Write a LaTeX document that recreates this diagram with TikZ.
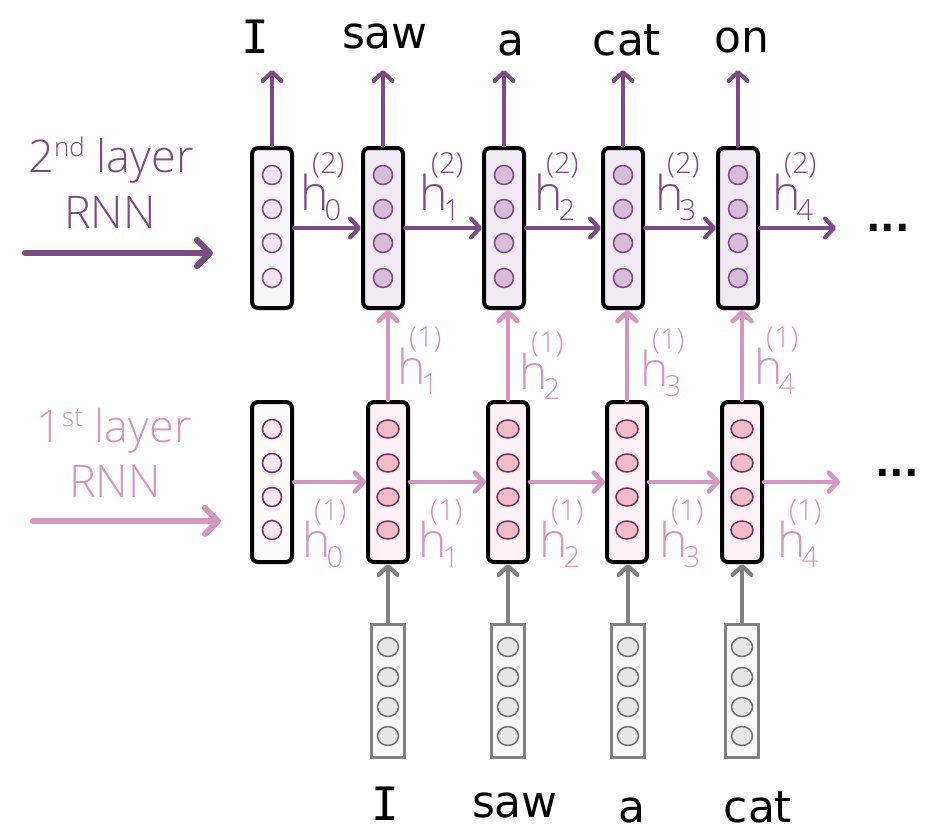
\documentclass[tikz,border=0pt]{standalone}
\usepackage{fontspec}
\setmainfont{Open Sans Light}
\newfontfamily\wordfont{DejaVu Sans}
\newfontfamily\wordmono{DejaVu Sans Mono}
\newfontfamily\dotfont{DejaVu Sans Bold}
\usetikzlibrary{arrows.meta,shapes.geometric}
\definecolor{purp}{HTML}{7C4A85}
\definecolor{pink}{HTML}{D597BF}
\definecolor{graya}{HTML}{808080}
\definecolor{tboxA}{HTML}{F8F6FA}
\definecolor{tboxB}{HTML}{F1EAF3}
\definecolor{tcirA}{HTML}{F1E4F3}
\definecolor{tcirB}{HTML}{D8BDDB}
\definecolor{lboxA}{HTML}{FEFBFB}
\definecolor{lboxB}{HTML}{FCF1F4}
\definecolor{lcirA}{HTML}{FAE8EC}
\definecolor{lcirB}{HTML}{F0BCC8}
\definecolor{lstroke}{HTML}{7A2D5E}
\definecolor{iboxf}{HTML}{F8F8F8}
\definecolor{icirf}{HTML}{E6E6E6}
\definecolor{icirs}{HTML}{707070}
\newcommand{\sfs}{\fontsize{29}{29}\selectfont}
\newcommand{\hlab}[2]{\rlap{h}\hspace{12pt}\rlap{\raisebox{37pt}{\sfs(#2)}}\hspace{12.5pt}\raisebox{-10pt}{\sfs #1}}
\tikzset{
  vbox/.style={draw=black, line width=4pt, rounded corners=6pt, minimum width=40pt, minimum height=160pt, inner sep=0pt},
  ibox/.style={draw=graya, line width=3.5pt, minimum width=33pt, minimum height=133pt, inner sep=0pt, fill=iboxf},
  tcA/.style={circle, draw=purp, line width=1.5pt, fill=tcirA, minimum size=19pt, inner sep=0pt},
  tcB/.style={circle, draw=purp, line width=1.5pt, fill=tcirB, minimum size=19pt, inner sep=0pt},
  lcA/.style={circle, draw=lstroke, line width=1.5pt, fill=lcirA, minimum size=19pt, inner sep=0pt},
  lcB/.style={ellipse, draw=lstroke, line width=1.5pt, fill=lcirB, minimum width=22pt, minimum height=18pt, inner sep=0pt},
  icir/.style={ellipse, draw=icirs, line width=1.5pt, fill=icirf, minimum width=21pt, minimum height=19pt, inner sep=0pt},
  parr/.style={draw=purp, line width=4pt, line cap=round, -{Straight Barb[length=9pt,width=19pt,line cap=round,line join=round]}},
  karr/.style={draw=pink, line width=4.5pt, line cap=round, -{Straight Barb[length=9pt,width=19pt,line cap=round,line join=round]}},
  garr/.style={draw=graya, line width=4pt, line cap=round, -{Straight Barb[length=9pt,width=19pt,line cap=round,line join=round]}},
  bigp/.style={draw=purp, line width=6pt, line cap=round, -{Straight Barb[length=13pt,width=26pt,line cap=round,line join=round]}},
  bigk/.style={draw=pink, line width=6pt, line cap=round, -{Straight Barb[length=13pt,width=26pt,line cap=round,line join=round]}},
  word/.style={font=\wordfont\fontsize{44}{44}\selectfont, inner sep=0pt, anchor=base},
  wordI/.style={font=\wordmono\fontsize{46}{46}\selectfont, inner sep=0pt, anchor=base},
  hp/.style={font=\fontsize{48}{48}\selectfont, text=purp, inner sep=0pt, anchor=base west},
  hk/.style={font=\fontsize{48}{48}\selectfont, text=pink, inner sep=0pt, anchor=base west},
  lay/.style={font=\fontsize{45}{45}\selectfont, inner sep=0pt, anchor=base},
  dots/.style={font=\dotfont\fontsize{38}{38}\selectfont, inner sep=0pt, anchor=base}
}
\begin{document}
\begin{tikzpicture}[x=1pt,y=-1pt]
\useasboundingbox (0,0) rectangle (926,836);
% ---------- top layer boxes
\foreach \i/\x in {0/272,1/383,2/504,3/623,4/738}{
  \ifnum\i=0
    \node[vbox, fill=tboxA] (t\i) at (\x,228) {};
    \foreach \j/\y in {1/175,2/209,3/243,4/278}{\node[tcA] (t\i c\j) at (\x,\y) {};}
  \else
    \node[vbox, fill=tboxB] (t\i) at (\x,228) {};
    \foreach \j/\y in {1/175,2/209,3/243,4/278}{\node[tcB] (t\i c\j) at (\x,\y) {};}
  \fi
}
% ---------- lower layer boxes
\foreach \i/\x in {0/272,1/388,2/508,3/627,4/742}{
  \ifnum\i=0
    \node[vbox, fill=lboxA] (l\i) at (\x,482) {};
    \foreach \j/\y in {1/429,2/463,3/497,4/530}{\node[lcA] (l\i c\j) at (\x,\y) {};}
  \else
    \node[vbox, fill=lboxB] (l\i) at (\x,482) {};
    \foreach \j/\y in {1/429,2/463,3/497,4/530}{\node[lcB] (l\i c\j) at (\x,\y) {};}
  \fi
}
% ---------- input boxes
\foreach \i/\x in {1/388,2/508,3/628,4/742}{
  \node[ibox] (in\i) at (\x,691) {};
  \foreach \j/\y in {1/647,2/677,3/707,4/736}{\node[icir] (in\i c\j) at (\x,\y) {};}
}
% ---------- output words (top)
\node[wordI] (ow0) at (255,53) {I};
\node[word] (ow1) at (385,48) {saw};
\node[word] (ow2) at (511,55) {a};
\node[word] (ow3) at (627,55) {cat};
\node[word] (ow4) at (742,52) {on};
% ---------- input words (bottom)
\node[wordI] (iw1) at (385,820) {I};
\node[word] (iw2) at (515,817) {saw};
\node[word] (iw3) at (632,822) {a};
\node[word] (iw4) at (758,822) {cat};
% ---------- output arrows
\foreach \i/\x in {0/272,1/383,2/504,3/623,4/738}{
  \coordinate (otip\i) at (\x,70);
  \draw[parr] (t\i.north) -- (otip\i);
}
% ---------- top recurrent arrows
\draw[parr] (t0.east) -- (t1.west);
\draw[parr] (t1.east) -- (t2.west);
\draw[parr] (t2.east) -- (t3.west);
\draw[parr] (t3.east) -- (t4.west);
\coordinate (ttail) at (836,228);
\draw[parr] (t4.east) -- (ttail);
\node[dots, text=black] (tdots) at (888,231) {...};
% ---------- lower recurrent arrows
\draw[karr] (l0.east) -- (l1.west);
\draw[karr] (l1.east) -- (l2.west);
\draw[karr] (l2.east) -- (l3.west);
\draw[karr] (l3.east) -- (l4.west);
\coordinate (ltail) at (840,480);
\draw[karr] (l4.east) -- (ltail |- l4.east);
\node[dots, text=black] (ldots) at (897,476) {...};
% ---------- vertical pink arrows
\foreach \i in {1,2,3,4}{
  \draw[karr] (l\i.north) -- (l\i.north |- t\i.south);
}
% ---------- vertical gray arrows
\foreach \i in {1,2,3,4}{
  \draw[garr] (in\i.north) -- (in\i.north |- l\i.south);
}
% ---------- top h labels
\node[hp] (ht0) at (300,210) {\hlab{0}{2}};
\node[hp] (ht1) at (419,210) {\hlab{1}{2}};
\node[hp] (ht2) at (534,210) {\hlab{2}{2}};
\node[hp] (ht3) at (655,210) {\hlab{3}{2}};
\node[hp] (ht4) at (772,210) {\hlab{4}{2}};
% ---------- middle h labels
\node[hk] (hm1) at (397,384) {\hlab{1}{1}};
\node[hk] (hm2) at (519,389) {\hlab{2}{1}};
\node[hk] (hm3) at (640,386) {\hlab{3}{1}};
\node[hk] (hm4) at (754,384) {\hlab{4}{1}};
% ---------- lower h labels
\node[hk] (hl0) at (302,557) {\hlab{0}{1}};
\node[hk] (hl1) at (418,557) {\hlab{1}{1}};
\node[hk] (hl2) at (539,557) {\hlab{2}{1}};
\node[hk] (hl3) at (659,557) {\hlab{3}{1}};
\node[hk] (hl4) at (777,557) {\hlab{4}{1}};
% ---------- layer labels
\node[lay, text=purp] (lab2a) at (111,172) {2\raisebox{16pt}{\fontsize{26}{26}\selectfont nd} layer};
\node[lay, text=purp] (lab2b) at (110,228) {RNN};
\coordinate (a2s) at (25,253);
\coordinate (a2e) at (213,253);
\draw[bigp] (a2s) -- (a2e);
\node[lay, text=pink] (lab1a) at (114,442) {1\raisebox{16pt}{\fontsize{26}{26}\selectfont st} layer};
\node[lay, text=pink] (lab1b) at (115,497) {RNN};
\coordinate (a1s) at (33,521);
\coordinate (a1e) at (221,521);
\draw[bigk] (a1s) -- (a1e);
\end{tikzpicture}
\end{document}
